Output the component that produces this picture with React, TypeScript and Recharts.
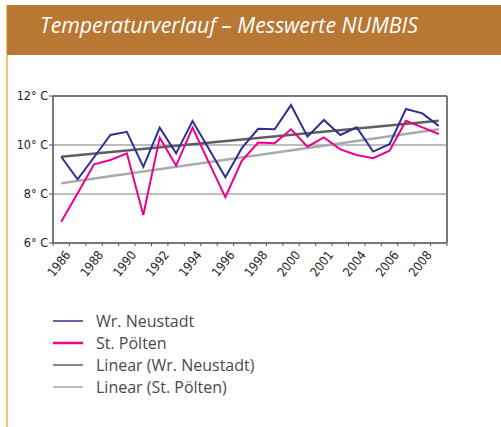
import React from "react";
import {
  LineChart,
  Line,
  XAxis,
  YAxis,
  CartesianGrid,
} from "recharts";

// ---- data ----
const years = [
  "1986", "1987", "1988", "1989", "1990", "1991", "1992", "1993",
  "1994", "1995", "1996", "1997", "1998", "1999", "2000", "2001",
  "2001", "2003", "2004", "2005", "2006", "2007", "2008", "2009",
];
const wrNeustadt = [
  9.52, 8.6, 9.5, 10.41, 10.54, 9.11, 10.71, 9.66, 10.98, 9.84, 8.68, 9.87,
  10.66, 10.64, 11.63, 10.34, 11.02, 10.41, 10.72, 9.73, 10.03, 11.47, 11.29, 10.78,
];
const stPoelten = [
  6.87, 8.03, 9.21, 9.39, 9.66, 7.14, 10.3, 9.16, 10.71, 9.28, 7.87, 9.35,
  10.1, 10.07, 10.64, 9.93, 10.31, 9.82, 9.59, 9.46, 9.77, 10.99, 10.72, 10.45,
];
// trend lines: start and end values
const linearWrEnds = [9.52, 10.99];
const linearStEnds = [8.44, 10.64];
const yTicks = [6, 8, 10, 12];

const seriesInfo = [
  { key: "wr", name: "Wr. Neustadt", color: "#2e3192", width: 2, legendWidth: 1.5 },
  { key: "st", name: "St. Pölten", color: "#ec008c", width: 2, legendWidth: 2.5 },
  { key: "lwr", name: "Linear (Wr. Neustadt)", color: "#5f5f5f", width: 2.5, legendWidth: 1.5 },
  { key: "lst", name: "Linear (St. Pölten)", color: "#ababab", width: 2.5, legendWidth: 1.5 },
];

const data = years.map((y, i) => ({
  year: y,
  wr: wrNeustadt[i],
  st: stPoelten[i],
  lwr: i === 0 ? linearWrEnds[0] : i === years.length - 1 ? linearWrEnds[1] : null,
  lst: i === 0 ? linearStEnds[0] : i === years.length - 1 ? linearStEnds[1] : null,
}));

// ---- layout ----
const CHART_W = 501;
const CHART_H = 300;
const YAXIS_W = 45;
const MARGIN = { top: 96, right: 54, bottom: 27, left: 8 };
const PLOT_W = CHART_W - MARGIN.left - YAXIS_W - MARGIN.right;
const BAND = PLOT_W / years.length;
const AXIS_FONT = "'Liberation Sans Narrow', 'DejaVu Sans Condensed', sans-serif";
const FRAME = "#7a7a7a";

const XTick = (props: any) => {
  const { x, y, payload, index } = props;
  const left = x - BAND / 2;
  const right = x + BAND / 2;
  const ax = x + 10;
  const ay = y + 12;
  return (
    <g>
      <line x1={left} y1={y} x2={left} y2={y + 3} stroke="#555" strokeWidth={1} />
      {index === years.length - 1 && (
        <line x1={right} y1={y} x2={right} y2={y + 3} stroke="#555" strokeWidth={1} />
      )}
      {index % 2 === 0 && (
        <text
          x={ax}
          y={ay}
          textAnchor="end"
          fontSize={12.5}
          fontFamily={AXIS_FONT}
          fill="#222"
          transform={`rotate(-52, ${ax}, ${ay})`}
        >
          {payload.value}
        </text>
      )}
    </g>
  );
};

const YTick = (props: any) => {
  const { x, y, payload } = props;
  return (
    <g>
      <line x1={x - 4} y1={y} x2={x + 1} y2={y} stroke="#555" strokeWidth={1} />
      <text
        x={x - 5}
        y={y + 4}
        textAnchor="end"
        fontSize={12.5}
        fontFamily={AXIS_FONT}
        fill="#222"
      >
        {`${payload.value}° C`}
      </text>
    </g>
  );
};

export default function App() {
  return (
    <div
      style={{
        position: "absolute",
        left: 0,
        top: 0,
        width: 501,
        height: 427,
        background: "#fff",
        overflow: "hidden",
      }}
    >
      {/* left accent line */}
      <div
        style={{
          position: "absolute",
          left: 6,
          top: 5,
          width: 2,
          height: 422,
          background: "#fdc36a",
        }}
      />
      {/* header */}
      <div
        style={{
          position: "absolute",
          left: 7,
          top: 5,
          width: 494,
          height: 50,
          background: "#b87732",
        }}
      />
      <div
        style={{
          position: "absolute",
          left: 40,
          top: 10,
          color: "#fff",
          fontStyle: "italic",
          fontFamily: "'Open Sans', sans-serif",
          fontSize: 21.3,
          whiteSpace: "nowrap",
        }}
      >
        Temperaturverlauf – Messwerte NUMBIS
      </div>

      <div style={{ position: "absolute", left: 0, top: 0 }}>
        <LineChart width={CHART_W} height={CHART_H} data={data} margin={MARGIN}>
          <CartesianGrid
            vertical={false}
            horizontalValues={[8, 10]}
            stroke="#a8a8a8"
            strokeWidth={1.5}
          />
          <CartesianGrid
            horizontalValues={[6, 12]}
            verticalCoordinatesGenerator={({ offset }: any) => [
              offset.left,
              offset.left + offset.width,
            ]}
            stroke={FRAME}
            strokeWidth={2}
            strokeDasharray="0"
          />
          <XAxis
            dataKey="year"
            interval={0}
            axisLine={false}
            tickLine={false}
            tickSize={0}
            tickMargin={0}
            tick={<XTick />}
            height={30}
            padding={{ left: BAND / 2, right: BAND / 2 }}
          />
          <YAxis
            domain={[6, 12]}
            ticks={yTicks}
            axisLine={false}
            tickLine={false}
            tickSize={0}
            tickMargin={0}
            tick={<YTick />}
            width={YAXIS_W}
          />
          <Line
            dataKey="lwr"
            stroke={seriesInfo[2].color}
            strokeWidth={seriesInfo[2].width}
            dot={false}
            connectNulls
            isAnimationActive={false}
          />
          <Line
            dataKey="lst"
            stroke={seriesInfo[3].color}
            strokeWidth={seriesInfo[3].width}
            dot={false}
            connectNulls
            isAnimationActive={false}
          />
          <Line
            dataKey="st"
            stroke={seriesInfo[1].color}
            strokeWidth={seriesInfo[1].width}
            dot={false}
            isAnimationActive={false}
          />
          <Line
            dataKey="wr"
            stroke={seriesInfo[0].color}
            strokeWidth={seriesInfo[0].width}
            dot={false}
            isAnimationActive={false}
          />
        </LineChart>
      </div>

      {/* legend */}
      <div style={{ position: "absolute", left: 53, top: 310 }}>
        {seriesInfo.map((s) => (
          <div
            key={s.key}
            style={{
              display: "flex",
              alignItems: "center",
              height: 22,
              fontFamily: "'Open Sans', sans-serif",
              fontSize: 16,
              color: "#4a4a4a",
              whiteSpace: "nowrap",
            }}
          >
            <svg width={43} height={22} style={{ display: "block" }}>
              <line x1={0} y1={11} x2={30} y2={11} stroke={s.color} strokeWidth={s.legendWidth} />
            </svg>
            <span>{s.name}</span>
          </div>
        ))}
      </div>
    </div>
  );
}
